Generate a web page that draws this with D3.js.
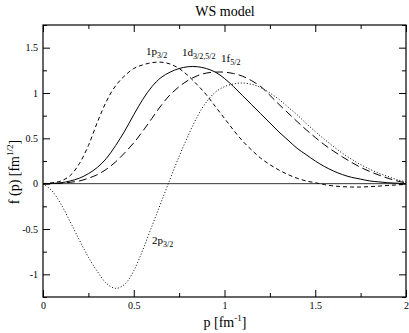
<!DOCTYPE html>
<html>
<head>
<meta charset="utf-8">
<script src="https://cdn.jsdelivr.net/npm/d3@7"></script>
<style>
  body { margin: 0; background: #fff; }
  svg { display: block; font-family: "Liberation Serif", "DejaVu Serif", serif; }
</style>
</head>
<body>
<div id="chart-container"></div>
<script>
// momentum grid (fm^-1)
const pGrid = [0, 0.05, 0.1, 0.15, 0.2, 0.25, 0.3, 0.35, 0.4, 0.45, 0.5, 0.55, 0.6, 0.65, 0.7, 0.75, 0.8, 0.85, 0.9, 0.95,
  1.0, 1.05, 1.1, 1.15, 1.2, 1.25, 1.3, 1.35, 1.4, 1.45, 1.5, 1.55, 1.6, 1.65, 1.7, 1.75, 1.8, 1.85, 1.9, 1.95, 2.0];

// f(p)
const f1p = [0, 0.01, 0.03, 0.09, 0.22, 0.42, 0.68, 0.91, 1.08, 1.19, 1.27, 1.31, 1.335, 1.34, 1.32, 1.27, 1.19, 1.09, 0.98, 0.85,
  0.72, 0.59, 0.47, 0.37, 0.28, 0.21, 0.15, 0.10, 0.06, 0.03, 0.01, -0.01, -0.025, -0.033, -0.037, -0.037, -0.033, -0.027, -0.02, -0.014, -0.008];
const f1d = [0, 0.003, 0.01, 0.03, 0.06, 0.11, 0.18, 0.28, 0.42, 0.58, 0.76, 0.93, 1.07, 1.17, 1.23, 1.27, 1.29, 1.29, 1.27, 1.23,
  1.16, 1.07, 0.97, 0.87, 0.77, 0.67, 0.57, 0.48, 0.39, 0.32, 0.25, 0.19, 0.14, 0.10, 0.07, 0.05, 0.03, 0.02, 0.01, 0.005, 0.002];
const f1f = [0, 0.001, 0.005, 0.015, 0.03, 0.06, 0.10, 0.16, 0.24, 0.34, 0.45, 0.58, 0.72, 0.86, 0.98, 1.07, 1.14, 1.19, 1.22, 1.23,
  1.23, 1.215, 1.185, 1.135, 1.07, 0.975, 0.875, 0.78, 0.685, 0.595, 0.51, 0.43, 0.36, 0.295, 0.235, 0.18, 0.135, 0.095, 0.06, 0.03, 0.01];
const f2p = [0, -0.08, -0.23, -0.42, -0.62, -0.81, -0.97, -1.10, -1.155, -1.11, -0.96, -0.73, -0.47, -0.21, 0.05, 0.30, 0.53, 0.74, 0.90, 1.01,
  1.07, 1.10, 1.11, 1.095, 1.06, 1.00, 0.93, 0.845, 0.76, 0.665, 0.575, 0.49, 0.41, 0.335, 0.27, 0.21, 0.16, 0.115, 0.08, 0.045, 0.02];

const xTicks = [0, 0.5, 1, 1.5, 2];
const xMinor = [0.25, 0.75, 1.25, 1.75];
const yTicks = [-1, -0.5, 0, 0.5, 1, 1.5];
const yMinor = [-1.25, -0.75, -0.25, 0.25, 0.75, 1.25, 1.75];

const margin = {top: 25, right: 3, bottom: 36, left: 43};
const width = 409 - margin.left - margin.right;
const height = 333 - margin.top - margin.bottom;

const svg = d3.select("#chart-container")
  .append("svg")
    .attr("width", 409)
    .attr("height", 333);

const g = svg.append("g")
  .attr("transform", `translate(${margin.left},${margin.top})`);

const x = d3.scaleLinear().domain([0, 2]).range([0, width]);
const y = d3.scaleLinear().domain([-1.25, 1.75]).range([height, 0]);

const fmt = d => String(d);

// zero line
g.append("line")
  .attr("x1", 0).attr("x2", width)
  .attr("y1", y(0)).attr("y2", y(0))
  .attr("stroke", "#000").attr("stroke-width", 0.8);

// axes, ticks pointing inward
function styleAxis(sel) {
  sel.select(".domain").remove();
  sel.selectAll("line").attr("stroke", "#000").attr("stroke-width", 1);
  sel.selectAll("text").style("font-family", "Liberation Serif").style("font-size", "10px").attr("fill", "#000");
}

g.append("g").attr("transform", `translate(0,${height})`)
  .call(d3.axisBottom(x).tickValues(xTicks).tickFormat(fmt).tickSize(-7).tickPadding(5))
  .call(styleAxis);
g.append("g").attr("transform", `translate(0,${height})`)
  .call(d3.axisBottom(x).tickValues(xMinor).tickFormat("").tickSize(-4))
  .call(styleAxis);
g.append("g")
  .call(d3.axisTop(x).tickValues(xTicks).tickFormat("").tickSize(-7))
  .call(styleAxis);
g.append("g")
  .call(d3.axisTop(x).tickValues(xMinor).tickFormat("").tickSize(-4))
  .call(styleAxis);

g.append("g")
  .call(d3.axisLeft(y).tickValues(yTicks).tickFormat(fmt).tickSize(-7).tickPadding(5))
  .call(styleAxis);
g.append("g")
  .call(d3.axisLeft(y).tickValues(yMinor).tickFormat("").tickSize(-4))
  .call(styleAxis);
g.append("g").attr("transform", `translate(${width},0)`)
  .call(d3.axisRight(y).tickValues(yTicks).tickFormat("").tickSize(-7))
  .call(styleAxis);
g.append("g").attr("transform", `translate(${width},0)`)
  .call(d3.axisRight(y).tickValues(yMinor).tickFormat("").tickSize(-4))
  .call(styleAxis);

// frame
g.append("rect")
  .attr("width", width).attr("height", height)
  .attr("fill", "none").attr("stroke", "#000").attr("stroke-width", 1.2);

// curves
const line = d3.line()
  .x((d, i) => x(pGrid[i]))
  .y(d => y(d))
  .curve(d3.curveCatmullRom.alpha(0.5));

const series = [
  {vals: f1p, dash: "4,3"},
  {vals: f1d, dash: null},
  {vals: f1f, dash: "8,4"},
  {vals: f2p, dash: "1,2"}
];

g.selectAll(".curve")
  .data(series)
  .enter()
  .append("path")
    .attr("class", "curve")
    .attr("d", d => line(d.vals))
    .attr("fill", "none")
    .attr("stroke", "#000")
    .attr("stroke-width", 1)
    .attr("stroke-dasharray", d => d.dash);

// curve labels
function subLabel(px, py, main, sub) {
  const t = svg.append("text")
    .attr("x", px).attr("y", py)
    .style("font-size", "11px");
  t.append("tspan").text(main);
  t.append("tspan").attr("dy", 3).style("font-size", "8px").text(sub);
}
subLabel(146, 55, "1p", "3/2");
subLabel(182, 56, "1d", "3/2,5/2");
subLabel(221, 62, "1f", "5/2");
subLabel(152, 244, "2p", "3/2");

// title
svg.append("text")
  .attr("x", 225).attr("y", 16)
  .attr("text-anchor", "middle")
  .style("font-size", "14px")
  .text("WS model");

// x label
const xl = svg.append("text")
  .attr("x", 225).attr("y", 327)
  .attr("text-anchor", "middle")
  .style("font-size", "14px");
xl.append("tspan").text("p [fm");
xl.append("tspan").attr("dy", -6).style("font-size", "9px").text("-1");
xl.append("tspan").attr("dy", 6).text("]");

// y label
const yl = svg.append("text")
  .attr("transform", "translate(19,172) rotate(-90)")
  .attr("text-anchor", "middle")
  .style("font-size", "14px");
yl.append("tspan").text("f (p) [fm");
yl.append("tspan").attr("dy", -6).style("font-size", "9px").text("1/2");
yl.append("tspan").attr("dy", 6).text("]");
</script>
</body>
</html>
